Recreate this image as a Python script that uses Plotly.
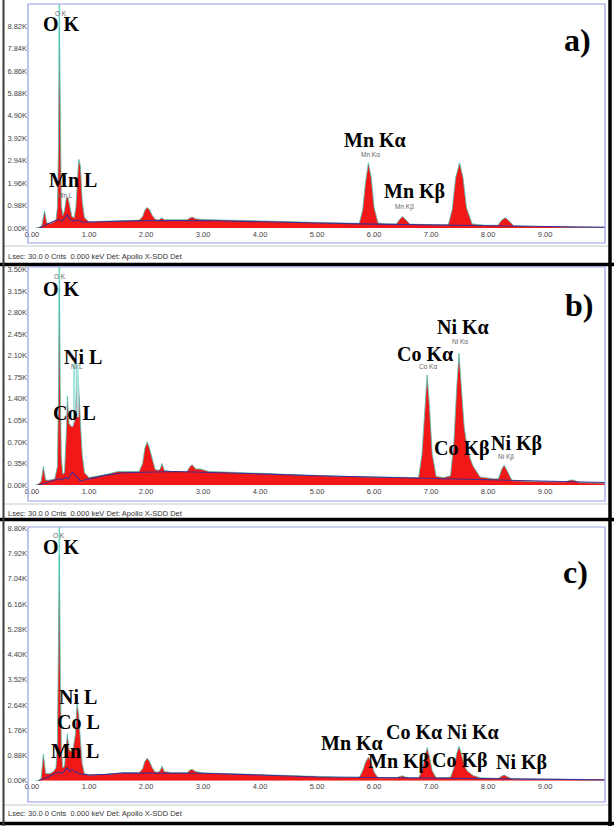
import plotly.graph_objects as go

W, H = 614, 826

# ---------------- data (keV, kilo-counts) ----------------
energy_a = [0.06, 0.12, 0.17, 0.22, 0.26, 0.32, 0.38, 0.42, 0.445, 0.465, 0.48, 0.495, 0.515, 0.54,
            0.57, 0.60, 0.63, 0.66, 0.70, 0.74, 0.77, 0.80, 0.82, 0.85, 0.88, 0.92, 1.0, 1.3, 1.6,
            1.88, 1.94, 1.98, 2.02, 2.06, 2.11, 2.16, 2.22, 2.25, 2.28, 2.32, 2.45, 2.72, 2.77, 2.81,
            2.87, 3.0, 3.5, 4.0, 4.5, 5.0, 5.5, 5.74, 5.80, 5.85, 5.90, 5.95, 6.00, 6.07, 6.2, 6.39,
            6.45, 6.50, 6.55, 6.63, 6.9, 7.3, 7.37, 7.43, 7.50, 7.56, 7.62, 7.72, 7.95, 8.17, 8.24,
            8.30, 8.36, 8.45, 8.7, 9.0, 9.5, 10.05]
counts_a = [0.0, 0.02, 0.08, 0.75, 0.22, 0.2, 0.26, 0.34, 0.9, 3.5, 8.75, 4.0, 1.0, 0.55,
            0.75, 1.3, 1.35, 1.0, 0.5, 0.45, 0.9, 2.2, 3.0, 2.7, 1.2, 0.45, 0.27, 0.3, 0.32,
            0.34, 0.5, 0.78, 0.9, 0.8, 0.55, 0.38, 0.35, 0.38, 0.44, 0.36, 0.35, 0.36, 0.44, 0.48,
            0.4, 0.37, 0.34, 0.31, 0.27, 0.23, 0.2, 0.2, 0.8, 2.0, 2.85, 2.2, 0.9, 0.22, 0.18, 0.18,
            0.38, 0.5, 0.38, 0.17, 0.15, 0.14, 0.8, 2.2, 2.85, 2.2, 0.9, 0.18, 0.12, 0.12, 0.35,
            0.45, 0.33, 0.1, 0.08, 0.06, 0.04, 0.03]
bkg_energy_a = [0.12, 0.25, 0.40, 0.47, 0.52, 0.58, 0.62, 0.66, 0.72, 0.80, 0.90, 1.2, 2.0, 3.0,
                4.0, 5.0, 6.0, 7.0, 8.0, 9.0, 10.05]
bkg_counts_a = [0.0, 0.15, 0.32, 0.36, 0.3, 0.45, 0.58, 0.4, 0.3, 0.36, 0.25, 0.27, 0.32, 0.33,
                0.29, 0.22, 0.17, 0.14, 0.1, 0.06, 0.03]

energy_b = [0.06, 0.12, 0.16, 0.20, 0.24, 0.32, 0.40, 0.445, 0.465, 0.48, 0.495, 0.515, 0.54,
            0.57, 0.60, 0.62, 0.65, 0.69, 0.72, 0.76, 0.79, 0.82, 0.85, 0.88, 0.92, 1.0, 1.3, 1.5,
            1.88, 1.94, 1.98, 2.02, 2.06, 2.11, 2.16, 2.22, 2.25, 2.28, 2.32, 2.45, 2.72, 2.77, 2.81,
            2.87, 2.95, 3.1, 3.5, 4.0, 4.5, 5.0, 5.5, 6.0, 6.5, 6.78, 6.84, 6.89, 6.93, 6.97, 7.02,
            7.09, 7.22, 7.34, 7.40, 7.45, 7.49, 7.53, 7.58, 7.63, 7.69, 7.74, 7.86, 8.1, 8.18, 8.24,
            8.28, 8.33, 8.42, 8.7, 9.35, 9.44, 9.50, 9.6, 10.05]
counts_b = [0.0, 0.02, 0.06, 0.30, 0.08, 0.08, 0.1, 0.3, 1.5, 3.2, 1.6, 0.45, 0.18,
            0.2, 0.8, 1.44, 1.0, 0.95, 0.95, 1.1, 1.89, 1.6, 1.0, 0.5, 0.2, 0.12, 0.17, 0.22,
            0.22, 0.35, 0.6, 0.70, 0.6, 0.4, 0.25, 0.24, 0.26, 0.35, 0.24, 0.22, 0.22, 0.3, 0.33,
            0.26, 0.26, 0.22, 0.21, 0.19, 0.17, 0.15, 0.14, 0.13, 0.12, 0.12, 0.5, 1.3, 1.79, 1.3, 0.5,
            0.14, 0.12, 0.15, 0.7, 1.6, 2.14, 1.6, 0.95, 0.62, 0.42, 0.3, 0.13, 0.1, 0.1, 0.26,
            0.32, 0.24, 0.07, 0.06, 0.05, 0.08, 0.08, 0.04, 0.03]
bkg_energy_b = [0.12, 0.25, 0.40, 0.47, 0.52, 0.58, 0.64, 0.70, 0.76, 0.84, 0.92, 1.0, 1.3, 1.6,
                2.5, 3.0, 4.0, 5.0, 6.0, 7.0, 8.0, 9.0, 10.05]
bkg_counts_b = [0.0, 0.04, 0.08, 0.1, 0.08, 0.12, 0.1, 0.2, 0.16, 0.07, 0.08, 0.1, 0.16, 0.2,
                0.22, 0.21, 0.18, 0.15, 0.13, 0.11, 0.09, 0.06, 0.04]

energy_c = [0.06, 0.12, 0.16, 0.20, 0.24, 0.32, 0.38, 0.42, 0.445, 0.465, 0.48, 0.495, 0.515, 0.54,
            0.57, 0.60, 0.62, 0.65, 0.69, 0.72, 0.76, 0.79, 0.82, 0.85, 0.88, 0.92, 1.0, 1.3, 1.6,
            1.88, 1.94, 1.98, 2.02, 2.06, 2.11, 2.16, 2.22, 2.25, 2.28, 2.32, 2.45, 2.72, 2.77, 2.81,
            2.87, 3.0, 3.5, 4.0, 4.5, 5.0, 5.5, 5.74, 5.80, 5.85, 5.90, 5.95, 6.00, 6.07, 6.39,
            6.45, 6.50, 6.55, 6.63, 6.78, 6.84, 6.89, 6.93, 6.97, 7.02, 7.09, 7.22, 7.34, 7.40, 7.45,
            7.49, 7.53, 7.58, 7.63, 7.69, 7.74, 7.86, 8.1, 8.18, 8.24, 8.28, 8.33, 8.42, 9.0, 9.5, 10.05]
counts_c = [0.0, 0.02, 0.08, 0.93, 0.25, 0.25, 0.33, 0.45, 1.2, 4.5, 7.85, 4.0, 1.2, 0.45,
            0.5, 1.2, 1.63, 1.1, 1.0, 1.1, 1.6, 2.7, 2.3, 1.4, 0.6, 0.25, 0.2, 0.22, 0.28,
            0.28, 0.42, 0.68, 0.78, 0.68, 0.45, 0.3, 0.3, 0.36, 0.51, 0.32, 0.28, 0.28, 0.37, 0.4,
            0.32, 0.27, 0.24, 0.2, 0.16, 0.13, 0.12, 0.12, 0.35, 0.65, 0.82, 0.65, 0.3, 0.1, 0.1,
            0.15, 0.17, 0.13, 0.1, 0.1, 0.35, 0.85, 1.16, 0.85, 0.35, 0.1, 0.1, 0.12, 0.45, 0.95,
            1.2, 0.95, 0.55, 0.35, 0.25, 0.18, 0.1, 0.08, 0.08, 0.16, 0.2, 0.15, 0.06, 0.05, 0.04, 0.03]
bkg_energy_c = [0.12, 0.25, 0.40, 0.47, 0.52, 0.58, 0.62, 0.66, 0.70, 0.75, 0.82, 0.90, 1.0, 1.3,
                1.6, 2.5, 3.0, 4.0, 5.0, 6.0, 7.0, 8.0, 9.0, 10.05]
bkg_counts_c = [0.0, 0.1, 0.25, 0.3, 0.25, 0.35, 0.45, 0.3, 0.4, 0.3, 0.25, 0.22, 0.2, 0.22,
                0.27, 0.27, 0.26, 0.2, 0.13, 0.11, 0.09, 0.07, 0.05, 0.03]

x_ticks = [0, 1, 2, 3, 4, 5, 6, 7, 8, 9]
x_tick_labels = ["0.00", "1.00", "2.00", "3.00", "4.00", "5.00", "6.00", "7.00", "8.00", "9.00"]
y_ticks_a = [0.00, 0.98, 1.96, 2.94, 3.92, 4.90, 5.88, 6.86, 7.84, 8.82]
y_ticks_b = [0.00, 0.35, 0.70, 1.05, 1.40, 1.75, 2.10, 2.45, 2.80, 3.15, 3.50]
y_ticks_c = [0.00, 0.88, 1.76, 2.64, 3.52, 4.40, 5.28, 6.16, 7.04, 7.92, 8.80]
y_top = [9.78, 3.54, 8.84]

o_k_line = 0.48

# big labels: (text, keV, kcounts)
labels_a = [("O K", 0.52, 8.91), ("Mn L", 0.72, 2.10), ("Mn Kα", 6.01, 3.84), ("Mn Kβ", 6.70, 1.59)]
small_a = [("O K", 0.51, 9.37), ("Mn L", 0.58, 1.44), ("Mn Kα", 5.93, 3.23), ("Mn Kβ", 6.53, 0.93)]
labels_b = [("O K", 0.52, 3.19), ("Ni L", 0.89, 2.08), ("Co L", 0.75, 1.17), ("Co Kα", 6.90, 2.13),
            ("Ni Kα", 7.56, 2.57), ("Co Kβ", 7.55, 0.60), ("Ni Kβ", 8.50, 0.68)]
small_b = [("O K", 0.49, 3.39), ("Ni L", 0.79, 1.93), ("Co Kα", 6.95, 1.93), ("Ni Kα", 7.51, 2.33),
           ("Ni Kβ", 8.32, 0.46)]
labels_c = [("O K", 0.52, 8.13), ("Ni L", 0.81, 2.93), ("Co L", 0.82, 2.06), ("Mn L", 0.75, 1.05),
            ("Mn Kα", 5.61, 1.30), ("Mn Kβ", 6.43, 0.66), ("Co Kα", 6.70, 1.71), ("Ni Kα", 7.73, 1.71),
            ("Co Kβ", 7.51, 0.72), ("Ni Kβ", 8.58, 0.63)]
small_c = [("O K", 0.47, 8.56)]
panel_tags = [("a)", 9.56, 8.21), ("b)", 9.60, 2.92), ("c)", 9.54, 7.27)]

footer = "Lsec: 30.0 0 Cnts  0.000 keV Det: Apollo X-SDD Det"

# ---------------- layout geometry (pixels) ----------------
PLOT_L, PLOT_R = 28, 605
panels = [  # top, zero-line, frame bottom, footer y, black separator y
    dict(top=4, bottom=228, frame_b=243, footer=256, sep=264.5),
    dict(top=267, bottom=485, frame_b=501, footer=513, sep=519.5),
    dict(top=527, bottom=780.7, frame_b=802, footer=813, sep=823.5),
]


def px(x):
    return x / W


def py(y):
    return 1 - y / H


RED = "rgb(242,24,24)"
EDGE = "rgb(80,195,180)"
BKG = "rgb(70,45,140)"
FRAME = "rgb(150,160,228)"

fig = go.Figure()
data = [(energy_a, counts_a, bkg_energy_a, bkg_counts_a),
        (energy_b, counts_b, bkg_energy_b, bkg_counts_b),
        (energy_c, counts_c, bkg_energy_c, bkg_counts_c)]
yticks = [y_ticks_a, y_ticks_b, y_ticks_c]
labels = [labels_a, labels_b, labels_c]
smalls = [small_a, small_b, small_c]

shapes = []
annotations = []
for i, (e, c, be, bc) in enumerate(data):
    n = "" if i == 0 else str(i + 1)
    xa, ya = "x" + n, "y" + n
    p = panels[i]
    # O K marker line
    fig.add_trace(go.Scatter(x=[o_k_line, o_k_line], y=[0, y_top[i]], mode="lines",
                             line=dict(color="rgb(110,215,195)", width=1.6),
                             xaxis=xa, yaxis=ya, hoverinfo="skip", showlegend=False))
    fig.add_trace(go.Scatter(x=e, y=c, mode="lines", fill="tozeroy", fillcolor=RED,
                             line=dict(color=EDGE, width=0.8),
                             xaxis=xa, yaxis=ya, showlegend=False))
    fig.add_trace(go.Scatter(x=be, y=bc, mode="lines", line=dict(color=BKG, width=1.1),
                             xaxis=xa, yaxis=ya, showlegend=False, hoverinfo="skip"))
    fig.layout["xaxis" + n] = dict(
        domain=[px(PLOT_L), px(PLOT_R)], range=[-0.07, 10.05], anchor=ya, automargin=False,
        tickvals=x_ticks, ticktext=x_tick_labels, showgrid=False, zeroline=False,
        showline=False, ticks="", tickfont=dict(family="Liberation Sans", size=7.5, color="#444"),
        fixedrange=True)
    fig.layout["yaxis" + n] = dict(
        domain=[py(p["bottom"]), py(p["top"])], range=[0, y_top[i]], anchor=xa, automargin=False,
        tickvals=yticks[i], ticktext=["%.2fK" % v for v in yticks[i]], showgrid=False,
        zeroline=False, showline=False, ticks="",
        tickfont=dict(family="Liberation Sans", size=7.5, color="#444"), fixedrange=True)
    # frame around plot + x labels
    shapes.append(dict(type="rect", xref="paper", yref="paper", x0=px(PLOT_L), x1=px(PLOT_R),
                       y0=py(p["frame_b"]), y1=py(p["top"]), line=dict(color=FRAME, width=1.2)))
    shapes.append(dict(type="line", xref="paper", yref="paper", x0=px(4), x1=px(608),
                       y0=py(p["frame_b"] + 3), y1=py(p["frame_b"] + 3),
                       line=dict(color="rgb(200,200,200)", width=1)))
    shapes.append(dict(type="line", xref="paper", yref="paper", x0=0, x1=1,
                       y0=py(p["sep"]), y1=py(p["sep"]), line=dict(color="black", width=3.5)))
    annotations.append(dict(text=footer, xref="paper", yref="paper", x=px(6), y=py(p["footer"]),
                            xanchor="left", yanchor="middle", showarrow=False,
                            font=dict(family="Liberation Sans", size=7.5, color="#333")))
    for t, ex, ey in smalls[i]:
        annotations.append(dict(text=t, xref=xa, yref=ya, x=ex, y=ey, showarrow=False,
                                font=dict(family="Liberation Sans", size=6.5, color="#666")))
    for t, ex, ey in labels[i]:
        annotations.append(dict(text="<b>%s</b>" % t, xref=xa, yref=ya, x=ex, y=ey, showarrow=False,
                                font=dict(family="Liberation Serif", size=20, color="black")))
    t, ex, ey = panel_tags[i]
    annotations.append(dict(text="<b>%s</b>" % t, xref=xa, yref=ya, x=ex, y=ey, showarrow=False,
                            font=dict(family="Liberation Serif", size=32, color="black")))

# pale Ni L marker band in panel b
fig.add_trace(go.Scatter(x=[0.74, 0.74, None, 0.80, 0.80], y=[1.1, 1.98, None, 1.1, 1.98],
                         mode="lines", line=dict(color="rgb(170,230,225)", width=2.5),
                         xaxis="x2", yaxis="y2", hoverinfo="skip", showlegend=False))

# outer dark borders
shapes.append(dict(type="line", xref="paper", yref="paper", x0=px(3.5), x1=px(3.5), y0=0, y1=1,
                   line=dict(color="rgb(60,60,60)", width=2)))
shapes.append(dict(type="line", xref="paper", yref="paper", x0=px(610), x1=px(610), y0=0, y1=1,
                   line=dict(color="black", width=3.5)))

fig.update_layout(width=W, height=H, margin=dict(l=0, r=0, t=0, b=0, autoexpand=False),
                  paper_bgcolor="white", plot_bgcolor="white", shapes=shapes,
                  annotations=annotations, showlegend=False)

fig.write_html("out.html", config={"displayModeBar": False},
               post_script="document.body.style.margin='0px';"
                           "document.body.style.overflow='hidden';")
